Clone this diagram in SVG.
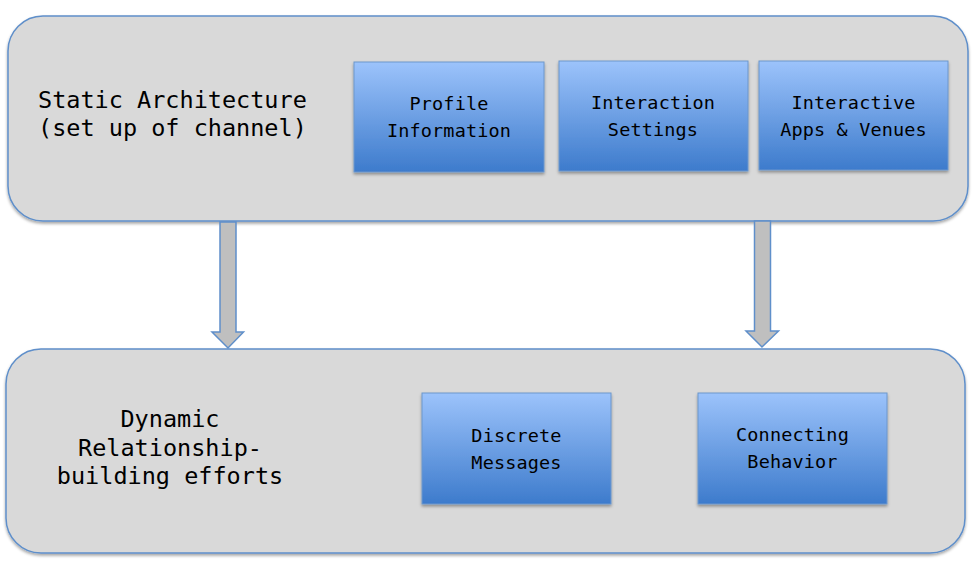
<svg xmlns="http://www.w3.org/2000/svg" width="975" height="567" viewBox="0 0 975 567">
<defs>
<linearGradient id="blue" x1="0" y1="0" x2="0" y2="1">
<stop offset="0" stop-color="#9cc3fb"/>
<stop offset="1" stop-color="#3d7bcc"/>
</linearGradient>
<filter id="sh" x="-10%" y="-10%" width="120%" height="130%">
<feDropShadow dx="0" dy="2" stdDeviation="1.8" flood-color="#000" flood-opacity="0.35"/>
</filter>
</defs>
<style>
.cont{fill:#d9d9d9;stroke:#5f8fca;stroke-width:1.5;filter:url(#sh)}
.box{fill:url(#blue);stroke:#6c97cc;stroke-width:1;filter:url(#sh)}
.arrow{fill:#bfbfbf;stroke:#5f8fca;stroke-width:1.5;stroke-linejoin:miter}
.big{font-family:"DejaVu Sans Mono","Liberation Mono",monospace;font-size:23.5px;fill:#000}
.lbl{font-family:"DejaVu Sans Mono","Liberation Mono",monospace;font-size:18.5px;letter-spacing:0.15px;fill:#000;text-anchor:middle}
</style>
<g id="static">
<rect class="cont" x="8" y="16" width="960" height="205" rx="35" ry="35"/>
<text class="big" x="38" y="108">Static Architecture</text>
<text class="big" x="38" y="136">(set up of channel)</text>
</g>
<g id="dynamic">
<rect class="cont" x="6" y="349" width="959" height="204" rx="35" ry="35"/>
<text class="big" x="170" y="427" text-anchor="middle">Dynamic</text>
<text class="big" x="170" y="456" text-anchor="middle">Relationship-</text>
<text class="big" x="170" y="484" text-anchor="middle">building efforts</text>
</g>
<g id="profile">
<rect class="box" x="354" y="62" width="190" height="110"/>
<text class="lbl" x="449" y="110">Profile</text>
<text class="lbl" x="449" y="137">Information</text>
</g>
<g id="interaction">
<rect class="box" x="559" y="61" width="189" height="110"/>
<text class="lbl" x="653" y="109">Interaction</text>
<text class="lbl" x="653" y="136">Settings</text>
</g>
<g id="apps">
<rect class="box" x="759" y="61" width="189" height="109"/>
<text class="lbl" x="853.5" y="108.5">Interactive</text>
<text class="lbl" x="853.5" y="136">Apps &amp; Venues</text>
</g>
<g id="discrete">
<rect class="box" x="422" y="393" width="189" height="111"/>
<text class="lbl" x="516.5" y="441.5">Discrete</text>
<text class="lbl" x="516.5" y="468.5">Messages</text>
</g>
<g id="connecting">
<rect class="box" x="698" y="393" width="189" height="111"/>
<text class="lbl" x="792.5" y="441">Connecting</text>
<text class="lbl" x="792.5" y="468">Behavior</text>
</g>
<g id="connectors">
<polygon class="arrow" points="220,222 236,222 236,332 243.5,332 228,348 212,332 220,332"/>
<polygon class="arrow" points="754.5,221 770.5,221 770.5,331 778.5,331 762,347 746,331 754.5,331"/>
</g>
</svg>
